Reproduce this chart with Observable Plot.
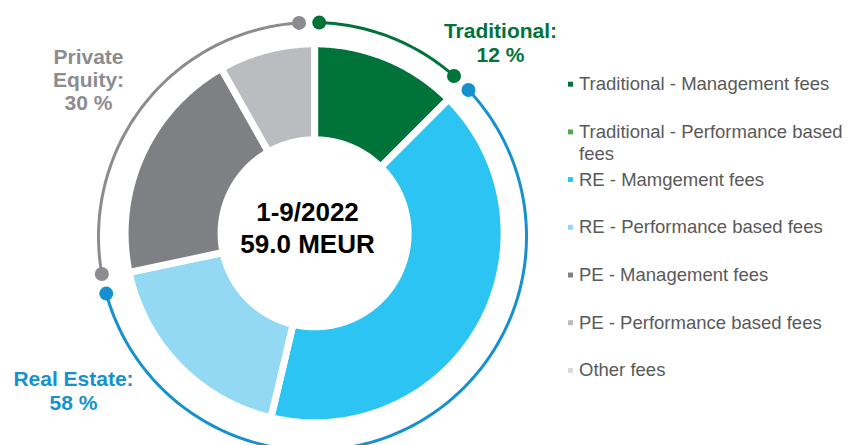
<!DOCTYPE html>
<html><head><meta charset="utf-8">
<script src="https://cdn.jsdelivr.net/npm/d3@7"></script>
<script src="https://cdn.jsdelivr.net/npm/@observablehq/plot@0.6"></script>
<style>html,body{margin:0;padding:0;background:#fff;} #chart svg{display:block}</style>
</head><body><div id="chart"></div>
<script>
// ---- data ----
const sliceNames = ["Traditional - Management fees", "Traditional - Performance based fees", "RE - Mamgement fees", "RE - Performance based fees", "PE - Management fees", "PE - Performance based fees", "Other fees"];
const sliceShares = [12.5, 0, 41.2, 18.0, 20.1, 8.2, 0];
const sliceColors = ["#00733a", "#4cab50", "#2cc4f2", "#93d9f3", "#7f8084", "#bbbcbf", "#d9d9d9"];
const groupNames = ["Traditional", "Real Estate", "Private Equity"];
const groupMembers = [[0, 1], [2, 3], [4, 5]];
const groupLabels = ["Traditional:\n12 %", "Real Estate:\n58 %", "Private\nEquity:\n30 %"];
const groupColors = ["#00733a", "#1691d0", "#8c8c90"];
const centerLabel = "1-9/2022\n59.0 MEUR";

// ---- layout ----
const W = 848, H = 445;
const donut = {cx: 314.6, cy: 233.3, rOuter: 189.5, rInner: 93.5, gap: 7};
const ring = {cx: 312, cy: 236, r: 214, padStart: 1.8, padEnd: 3.6, width: 3, dot: 7};
const groupLabelPos = [{x: 500, y: 19.5, lh: 1.18}, {x: 73, y: 368, lh: 1.16}, {x: 88, y: 46.5, lh: 1.11}];
const legend = {xMark: 570, xText: 578.5, y0: 83.7, step: 47.7, fontSize: 18.5};
const topShift = 0.15; // em correction for Plot's top line anchor

const rad = Math.PI / 180;
const total = d3.sum(sliceShares);
let acc = 0;
const slices = sliceNames.map((name, i) => {
  const a0 = acc / total * 360; acc += sliceShares[i];
  return {name, color: sliceColors[i], share: sliceShares[i], a0, a1: acc / total * 360};
});
const slicePts = slices.filter(s => s.share > 0).flatMap(s => {
  const n = Math.max(2, Math.ceil((s.a1 - s.a0) * 2));
  return d3.range(n + 1).map(k => {
    const a = (s.a0 + (s.a1 - s.a0) * k / n) * rad;
    return {name: s.name, color: s.color,
      xo: donut.cx + donut.rOuter * Math.sin(a), yo: donut.cy - donut.rOuter * Math.cos(a),
      xi: donut.cx + donut.rInner * Math.sin(a), yi: donut.cy - donut.rInner * Math.cos(a)};
  });
});
const arcs = groupNames.map((g, i) => {
  const m = groupMembers[i];
  return {group: g, color: groupColors[i], a0: slices[m[0]].a0 + ring.padStart, a1: slices[m[m.length - 1]].a1 - ring.padEnd};
});
const pt = (a) => ({x: ring.cx + ring.r * Math.sin(a * rad), y: ring.cy - ring.r * Math.cos(a * rad)});
const arcPts = arcs.flatMap(a => {
  const n = Math.ceil(a.a1 - a.a0);
  return d3.range(n + 1).map(k => ({group: a.group, color: a.color, ...pt(a.a0 + (a.a1 - a.a0) * k / n)}));
});
const arcEnds = arcs.flatMap(a => [{color: a.color, ...pt(a.a0)}, {color: a.color, ...pt(a.a1)}]);
const legendItems = sliceNames.map((name, i) => ({name, color: sliceColors[i], y: legend.y0 + i * legend.step}));

const marks = [
  Plot.area(slicePts, {x1: "xo", y1: "yo", x2: "xi", y2: "yi", z: "name", fill: "color", stroke: "white", strokeWidth: donut.gap}),
  Plot.line(arcPts, {x: "x", y: "y", z: "group", stroke: "color", strokeWidth: ring.width}),
  Plot.dot(arcEnds, {x: "x", y: "y", r: ring.dot, fill: "color"}),
  ...groupLabels.map((t, i) => Plot.text([t], {x: groupLabelPos[i].x, y: groupLabelPos[i].y, text: d => d, fill: groupColors[i],
    fontSize: 21, fontWeight: "bold", textAnchor: "middle", lineAnchor: "top", lineHeight: groupLabelPos[i].lh})),
  Plot.text([centerLabel], {x: 307, y: 198, text: d => d, fill: "#000", fontSize: 26, fontWeight: "bold", textAnchor: "middle", lineAnchor: "top", lineHeight: 1.215}),
  Plot.dot(legendItems, {x: legend.xMark, y: "y", symbol: "square", r: 2.8, fill: "color"}),
  Plot.text(legendItems, {x: legend.xText, y: d => d.y - (0.358 + topShift) * legend.fontSize, text: "name", fill: "#595959", fontSize: legend.fontSize,
    textAnchor: "start", lineAnchor: "top", lineWidth: 17, lineHeight: 1.17})
];

const chart = Plot.plot({
  width: W, height: H, margin: 0,
  x: {domain: [0, W], range: [0, W], axis: null},
  y: {domain: [0, H], range: [0, H], axis: null},
  color: {type: "identity"},
  style: {fontFamily: "'Liberation Sans', Arial, sans-serif", background: "white", overflow: "visible"},
  marks
});
document.getElementById("chart").appendChild(chart);
</script>
</body></html>
